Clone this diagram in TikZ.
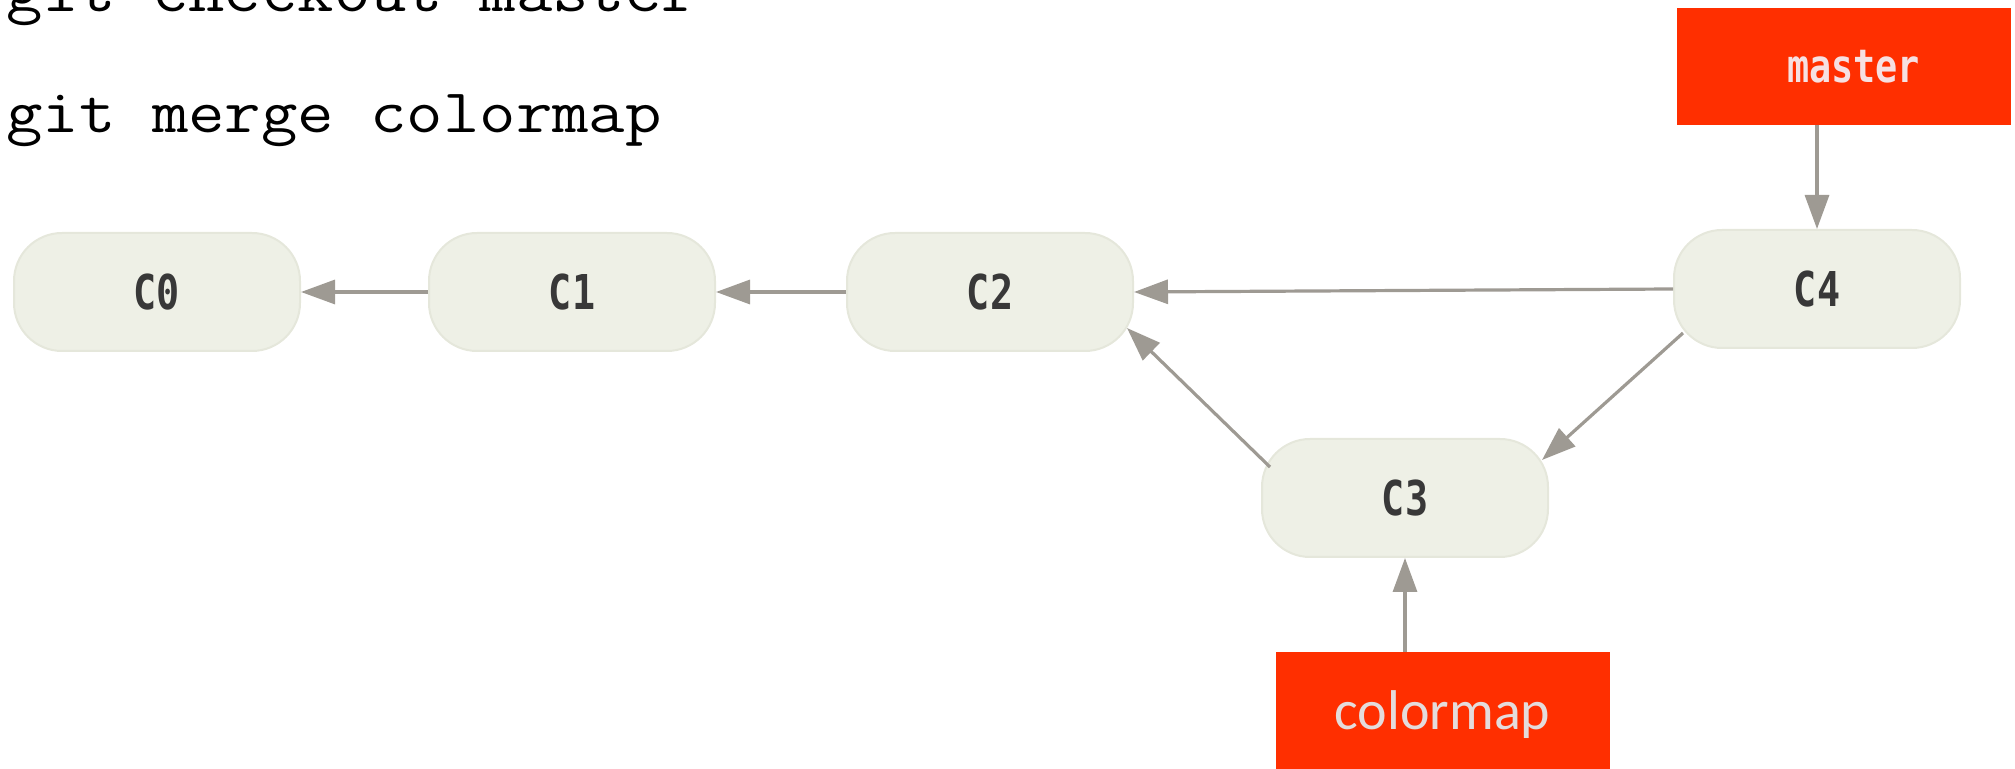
\documentclass[tikz,border=0pt]{standalone}
\usepackage{fontspec}
\setmainfont{Liberation Serif}
\newfontfamily\labfont{DejaVu Sans Mono}
\newfontfamily\cbfont{Carlito}
\usetikzlibrary{arrows.meta,calc}
\definecolor{nodefill}{HTML}{EEF0E6}
\definecolor{nodeedge}{HTML}{E5E7DB}
\definecolor{arrowgray}{HTML}{9E9A93}
\definecolor{branchred}{HTML}{FF2F00}
\definecolor{mastertext}{HTML}{F6E0E2}
\definecolor{cmtext}{HTML}{E4DCDC}
\newcommand\cnd[1]{\scalebox{0.8}[1]{#1}}
\newcommand\wide[1]{\scalebox{1.14}[1]{#1}}
\begin{document}
\begin{tikzpicture}[x=0.5pt,y=-0.5pt,
  commit/.style={draw=nodeedge, line width=1pt, fill=nodefill, rounded corners=24pt,
    minimum width=143pt, minimum height=59pt, inner sep=0pt,
    font=\labfont\bfseries\fontsize{24}{24}\selectfont, text=black!78},
  branch/.style={fill=branchred, draw=none, minimum width=167pt, minimum height=58.5pt, inner sep=0pt},
  link/.style={draw=arrowgray, line width=1.6pt, -{Triangle[length=17pt,width=12pt]}},
  cmd/.style={anchor=base west, inner sep=0pt, font=\ttfamily\fontsize{31}{31}\selectfont}]

\useasboundingbox (0,0) rectangle (2015,769);

% command text
\node[cmd] (cmd1) at (6,12) {\wide{git checkout master}};
\node[cmd] (cmd2) at (6,133) {\wide{git merge colormap}};

% commits
\node[commit] (C0) at (157,292) {\cnd{C0}};
\node[commit] (C1) at (572,292) {\cnd{C1}};
\node[commit] (C2) at (990,292) {\cnd{C2}};
\node[commit] (C4) at (1817,289) {\cnd{C4}};
\node[commit] (C3) at (1405,498) {\cnd{C3}};

% branches
\node[branch, text=mastertext, font=\labfont\bfseries\fontsize{23}{23}\selectfont]
  (master) at (1843.5,66.5) {\hspace{10pt}\cnd{master}};
\node[branch, text=cmtext, font=\cbfont\fontsize{28}{28}\selectfont, text depth=0pt]
  (colormap) at (1442.5,710.5) {colormap};

% connectors
\draw[link] (C1.west) -- (C0.east);
\draw[link] (C2.west) -- (C1.east);
\draw[link] (C4.west) -- (C2.east);
\draw[link] ($(C3)+(-135,-31)$) -- ($(C2)+(137,36)$);
\draw[link] ($(C4)+(-134,44)$) -- ($(C3)+(137,-38)$);
\draw[link] (master.south -| C4) -- (C4.north);
\draw[link] (colormap.north -| C3) -- (C3.south);
\end{tikzpicture}
\end{document}
